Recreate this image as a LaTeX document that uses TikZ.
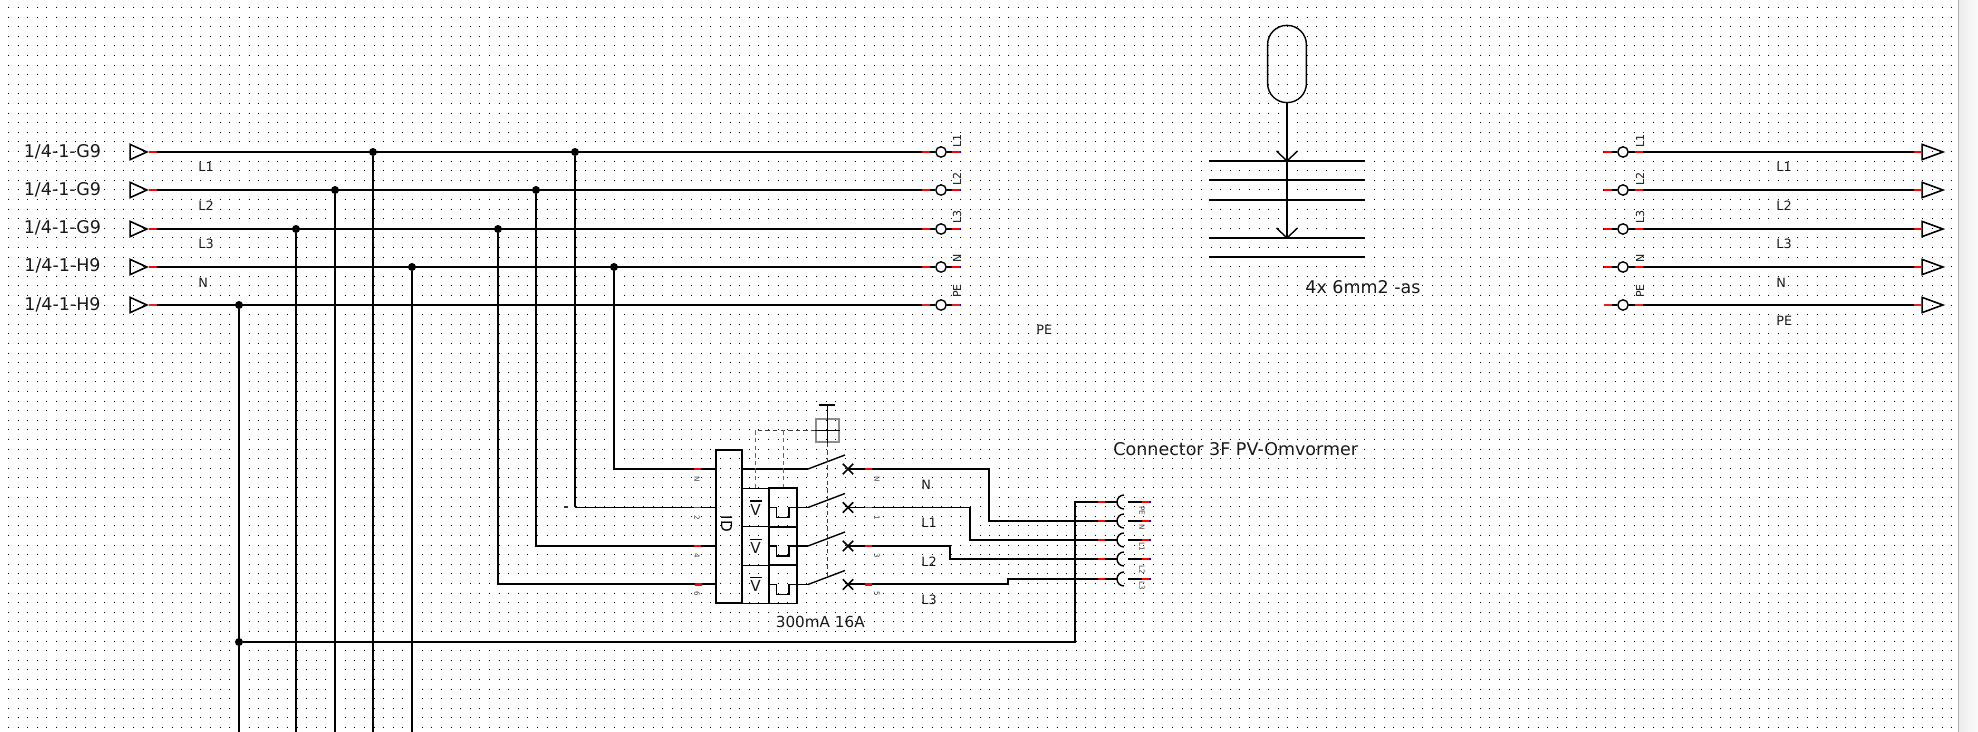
\documentclass[tikz,border=0pt]{standalone}
\usepackage{fontspec}
\setmainfont{DejaVu Sans}
\usetikzlibrary{shapes.geometric}
\usetikzlibrary{shapes.misc}
\tikzset{
    wire/.style = {line width=1pt,black},
    thinwire/.style = {line width=.6pt,black},
    redtip/.style = {line width=1.1pt,red},
    thinredtip/.style = {line width=.7pt,red!70!gray},
    bluetip/.style = {line width=1.1pt,blue},
    junction/.style = {circle,fill=black,inner sep=0pt,minimum size=4pt},
    terminal/.style = {circle,draw,line width=.7pt,fill=white,inner sep=0pt,minimum size=5.2pt},
    feed/.style = {isosceles triangle,isosceles triangle stretches,draw,line width=.8pt,inner sep=0pt,anchor=apex,minimum width=7.6pt,minimum height=8.4pt},
    endfeed/.style = {feed,minimum width=7.6pt,minimum height=10.4pt},
    hugetext/.style = {font=\fontsize{8.75}{10}\selectfont,inner sep=0pt,text=black!90},
    midtext/.style = {font=\fontsize{7.6}{10}\selectfont,inner sep=0pt,text=black!90},
    wirename/.style = {font=\fontsize{6.4}{8}\selectfont,inner sep=0pt,anchor=west,text=black!90},
    pinname/.style = {font=\fontsize{5.5}{7}\selectfont,inner sep=0pt,rotate=90,text=black!90},
    tinypin/.style = {font=\fontsize{3.6}{4}\selectfont,inner sep=0pt,rotate=-90,text=black!75},
    modbox/.style = {rectangle,draw,line width=.8pt,inner sep=0pt},
    contact/.style = {line width=.7pt,black},
    crossmark/.style = {cross out,draw,line width=.8pt,inner sep=0pt,minimum size=4.4pt},
    thindash/.style = {line width=.4pt,black!60,dash pattern=on 2.2pt off 1.6pt}
}
\begin{document}
\begin{tikzpicture}[x=.5pt,y=-.5pt]
    \useasboundingbox (0,0) rectangle (1978,732);
    \shade[left color=black!7,right color=black!2] (1959,0) rectangle (1978,732);
    \draw[black!30,line width=.7pt] (1958.7,0) -- (1958.7,732);
    %dots of the sheet
    \foreach \rowy in {0,...,75} {
        \draw[black,line width=.5pt,dash pattern=on .5pt off 4.31pt] (8,{7.5+9.6*\rowy}) -- (1955,{7.5+9.6*\rowy});
    }

    \path   (149,152) node (inA) [feed] {}
            (149,190) node (inB) [feed] {}
            (149,229) node (inC) [feed] {}
            (149,267) node (inD) [feed] {}
            (149,305) node (inE) [feed] {};
    \path   (941,152) node (outA) [terminal] {}
            (941,190) node (outB) [terminal] {}
            (941,229) node (outC) [terminal] {}
            (941,267) node (outD) [terminal] {}
            (941,305) node (outE) [terminal] {};
    \path   (1623,152) node (backA) [terminal] {}
            (1623,190) node (backB) [terminal] {}
            (1623,229) node (backC) [terminal] {}
            (1623,267) node (backD) [terminal] {}
            (1623,305) node (backE) [terminal] {};
    \path   (1945,152) node (endA) [endfeed] {}
            (1945,190) node (endB) [endfeed] {}
            (1945,229) node (endC) [endfeed] {}
            (1945,267) node (endD) [endfeed] {}
            (1945,305) node (endE) [endfeed] {};

    \path   (373,152) node (jA) [junction] {}
            (575,152) node (kA) [junction] {}
            (335,190) node (jB) [junction] {}
            (536,190) node (kB) [junction] {}
            (296,229) node (jC) [junction] {}
            (498,229) node (kC) [junction] {}
            (412,267) node (jD) [junction] {}
            (614,267) node (kD) [junction] {}
            (239,305) node (jE) [junction] {}
            (239,642) node (kE) [junction] {};
    \coordinate (bottomA) at (373,732);
    \coordinate (bottomB) at (335,732);
    \coordinate (bottomC) at (296,732);
    \coordinate (bottomD) at (412,732);
    \coordinate (bottomE) at (239,732);

    \draw[wire] (inA.apex) -- (outA.west);
    \draw[wire] (inB.apex) -- (outB.west);
    \draw[wire] (inC.apex) -- (outC.west);
    \draw[wire] (inD.apex) -- (outD.west);
    \draw[thinwire] (inE.apex) -- (outE.west);
    \draw[wire] (backA.east) -- (endA.west);
    \draw[wire] (backB.east) -- (endB.west);
    \draw[wire] (backC.east) -- (endC.west);
    \draw[wire] (backD.east) -- (endD.west);
    \draw[thinwire] (backE.east) -- (endE.west);
    \draw[wire] (jA) -- (bottomA);
    \draw[wire] (jB) -- (bottomB);
    \draw[wire] (jC) -- (bottomC);
    \draw[wire] (jD) -- (bottomD);
    \draw[wire] (jE) -- (bottomE);

    \draw[redtip] (inA.apex) -- ++(8,0);
    \draw[redtip] (inB.apex) -- ++(8,0);
    \draw[redtip] (inC.apex) -- ++(8,0);
    \draw[redtip] (inD.apex) -- ++(8,0);
    \draw[thinredtip] (inE.apex) -- ++(8,0);
    \draw[redtip] (outA.west) ++(-13,0) -- ++(8,0);
    \draw[redtip] (outB.west) ++(-13,0) -- ++(8,0);
    \draw[redtip] (outC.west) ++(-13,0) -- ++(8,0);
    \draw[redtip] (outD.west) ++(-13,0) -- ++(8,0);
    \draw[thinredtip] (outE.west) ++(-13,0) -- ++(8,0);
    \draw[thinwire] (outA.east) -- ++(5,0);
    \draw[thinwire] (outB.east) -- ++(5,0);
    \draw[thinwire] (outC.east) -- ++(5,0);
    \draw[thinwire] (outD.east) -- ++(5,0);
    \draw[thinwire] (outE.east) -- ++(5,0);
    \draw[redtip] (outA.east) ++(5,0) -- ++(8,0);
    \draw[redtip] (outB.east) ++(5,0) -- ++(8,0);
    \draw[redtip] (outC.east) ++(5,0) -- ++(8,0);
    \draw[redtip] (outD.east) ++(5,0) -- ++(8,0);
    \draw[thinredtip] (outE.east) ++(5,0) -- ++(8,0);
    \draw[bluetip] (outA.east) ++(13,0) -- ++(1.5,0);
    \draw[bluetip] (outB.east) ++(13,0) -- ++(1.5,0);
    \draw[bluetip] (outC.east) ++(13,0) -- ++(1.5,0);
    \draw[bluetip] (outD.east) ++(13,0) -- ++(1.5,0);
    \draw[bluetip] (outE.east) ++(13,0) -- ++(1.5,0);
    \draw[bluetip] (backA.west) ++(-13,0) -- ++(-1.5,0);
    \draw[bluetip] (backB.west) ++(-13,0) -- ++(-1.5,0);
    \draw[bluetip] (backC.west) ++(-13,0) -- ++(-1.5,0);
    \draw[bluetip] (backD.west) ++(-13,0) -- ++(-1.5,0);
    \draw[thinwire] (backA.west) -- ++(-5,0);
    \draw[thinwire] (backB.west) -- ++(-5,0);
    \draw[thinwire] (backC.west) -- ++(-5,0);
    \draw[thinwire] (backD.west) -- ++(-5,0);
    \draw[thinwire] (backE.west) -- ++(-5,0);
    \draw[redtip] (backA.west) ++(-5,0) -- ++(-8,0);
    \draw[redtip] (backB.west) ++(-5,0) -- ++(-8,0);
    \draw[redtip] (backC.west) ++(-5,0) -- ++(-8,0);
    \draw[redtip] (backD.west) ++(-5,0) -- ++(-8,0);
    \draw[thinredtip] (backE.west) ++(-5,0) -- ++(-8,0);
    \draw[redtip] (backA.east) ++(6,0) -- ++(8,0);
    \draw[redtip] (backB.east) ++(6,0) -- ++(8,0);
    \draw[redtip] (backC.east) ++(6,0) -- ++(8,0);
    \draw[redtip] (backD.east) ++(6,0) -- ++(8,0);
    \draw[thinredtip] (backE.east) ++(6,0) -- ++(8,0);
    \draw[redtip] (endA.west) ++(-7,0) -- ++(7,0);
    \draw[redtip] (endB.west) ++(-7,0) -- ++(7,0);
    \draw[redtip] (endC.west) ++(-7,0) -- ++(7,0);
    \draw[redtip] (endD.west) ++(-7,0) -- ++(7,0);
    \draw[thinredtip] (endE.west) ++(-7,0) -- ++(7,0);

    \path   (62.5,152) node (srcA) [hugetext] {1/4-1-G9}
            (62.5,190) node (srcB) [hugetext] {1/4-1-G9}
            (62.5,228) node (srcC) [hugetext] {1/4-1-G9}
            (62.5,266) node (srcD) [hugetext] {1/4-1-H9}
            (62.5,305) node (srcE) [hugetext] {1/4-1-H9};
    \path   (198,167) node (nameA) [wirename] {L1}
            (198,206) node (nameB) [wirename] {L2}
            (198,244) node (nameC) [wirename] {L3}
            (198,283) node (nameD) [wirename] {N}
            (1036,330) node (nameE) [wirename] {PE}
            (1776,167) node (nameF) [wirename] {L1}
            (1776,206) node (nameG) [wirename] {L2}
            (1776,244) node (nameH) [wirename] {L3}
            (1776,283) node (nameI) [wirename] {N}
            (1776,321) node (nameJ) [wirename] {PE};
    \path   (957,141) node (pinA) [pinname] {L1}
            (957,179) node (pinB) [pinname] {L2}
            (957,217) node (pinC) [pinname] {L3}
            (957,258) node (pinD) [pinname] {N}
            (957,291) node (pinE) [pinname] {PE}
            (1640,141) node (pinF) [pinname] {L1}
            (1640,179) node (pinG) [pinname] {L2}
            (1640,217) node (pinH) [pinname] {L3}
            (1640,258) node (pinI) [pinname] {N}
            (1640,291) node (pinJ) [pinname] {PE};

    %cable
    \path (1287,64) node (pill) [rectangle,rounded corners=9.6pt,draw,line width=.7pt,inner sep=0pt,minimum width=19.4pt,minimum height=38.6pt] {};
    \coordinate (cableA) at (1287,161);
    \coordinate (cableB) at (1287,238);
    \draw[line width=.8pt] (1209,161) -- (1365,161);
    \draw[line width=.7pt] (1209,180) -- (1365,180);
    \draw[line width=.7pt] (1209,200) -- (1365,200);
    \draw[line width=.8pt] (1209,238) -- (1365,238);
    \draw[line width=.7pt] (1209,257) -- (1365,257);
    \draw[wire] (pill.south) -- (cableB);
    \draw[contact] (cableA) -- ++(-10.5,-10) (cableA) -- ++(10.5,-10);
    \draw[contact] (cableB) -- ++(-10.5,-10) (cableB) -- ++(10.5,-10);
    \path (1305,287) node (cabletext) [hugetext,anchor=west] {4x 6mm2 -as};

    %breaker
    \path (729,526.5) node (idbox) [modbox,minimum width=13pt,minimum height=76.5pt] {}
          (726.7,524) node (idtext) [font=\fontsize{7.6}{8}\selectfont,inner sep=0pt,rotate=-90] {ID};
    \path (755.5,507.5) node (vboxA) [modbox,line width=.6pt,minimum width=13.5pt,minimum height=19.2pt] {}
          (755.5,546) node (vboxB) [modbox,line width=.6pt,minimum width=13.5pt,minimum height=19.2pt] {}
          (755.5,584.5) node (vboxC) [modbox,line width=.6pt,minimum width=13.5pt,minimum height=19.2pt] {};
    \path (783,507.5) node (heatA) [modbox,minimum width=13.8pt,minimum height=19.2pt] {}
          (783,546) node (heatB) [modbox,minimum width=13.8pt,minimum height=19.2pt] {}
          (783,584.5) node (heatC) [modbox,minimum width=13.8pt,minimum height=19.2pt] {};
    \path (755.5,509.5) node (voltA) [midtext] {V}
          (755.5,548) node (voltB) [midtext] {V}
          (755.5,586) node (voltC) [midtext] {V};
    \draw[contact] (voltA.north) ++(-6,-2.7) -- ++(12,0);
    \draw[contact] (voltB.north) ++(-6,-2.7) -- ++(12,0);
    \draw[contact] (voltC.north) ++(-6,-2.7) -- ++(12,0);
    \draw[contact] (heatA.west) -- ++(8,0) -- ++(0,10) -- ++(12.5,0) -- ++(0,-10) -- (heatA.east);
    \draw[contact] (heatB.west) -- ++(8,0) -- ++(0,10) -- ++(12.5,0) -- ++(0,-10) -- (heatB.east);
    \draw[contact] (heatC.west) -- ++(8,0) -- ++(0,10) -- ++(12.5,0) -- ++(0,-10) -- (heatC.east);

    \coordinate (hingeN) at (808,469);
    \coordinate (hingeA) at (808,507.5);
    \coordinate (hingeB) at (808,546);
    \coordinate (hingeC) at (808,584.5);
    \path (848,469) node (crossN) [crossmark] {}
          (848,507.5) node (crossA) [crossmark] {}
          (848,546) node (crossB) [crossmark] {}
          (848,584.5) node (crossC) [crossmark] {};
    \draw[wire] (idbox.east |- hingeN) -- (hingeN);
    \draw[contact] (hingeN) -- ++(37,-14);
    \draw[thinwire] (heatA.east) -- (hingeA);
    \draw[contact] (hingeA) -- ++(37,-14);
    \draw[thinwire] (heatB.east) -- (hingeB);
    \draw[contact] (hingeB) -- ++(37,-14);
    \draw[thinwire] (heatC.east) -- (hingeC);
    \draw[contact] (hingeC) -- ++(37,-14);

    \coordinate (foldN) at (614,469);
    \coordinate (foldA) at (575,507.5);
    \coordinate (foldB) at (536,546);
    \coordinate (foldC) at (498,584.5);
    \draw[wire] (kD) -- (foldN) -- (idbox.west |- foldN);
    \draw[wire] (kA) -- (foldA);
    \draw[thinwire] (foldA) -- (idbox.west |- foldA);
    \draw[wire] (kB) -- (foldB) -- (idbox.west |- foldB);
    \draw[wire] (kC) -- (foldC) -- (idbox.west |- foldC);
    \draw[redtip] (idbox.west |- foldN) ++(-21,0) -- ++(7,0);
    \draw[thinredtip] (idbox.west |- foldA) ++(-21,0) -- ++(7,0);
    \draw[redtip] (idbox.west |- foldB) ++(-21,0) -- ++(7,0);
    \draw[redtip] (idbox.west |- foldC) ++(-20,0) -- ++(7,0);
    \path (565.5,507) node (speck) [rectangle,fill=black!80,inner sep=0pt,minimum width=2pt,minimum height=1.4pt] {};
    \path (697,479) node (leftN) [tinypin] {N}
          (697,518) node (leftA) [tinypin] {2}
          (697,556) node (leftB) [tinypin] {4}
          (697,594) node (leftC) [tinypin] {6}
          (877,479) node (rightN) [tinypin] {N}
          (877,518) node (rightA) [tinypin] {1}
          (877,556) node (rightB) [tinypin] {3}
          (877,594) node (rightC) [tinypin] {5};

    %handle
    \path (827.5,430.5) node (handle) [rectangle,draw=black!45,line width=.6pt,inner sep=0pt,minimum size=11.5pt] {};
    \coordinate (capleft) at (819,405);
    \coordinate (capright) at (835,405);
    \draw[thinwire] (capleft) -- (capright);
    \draw[thinwire] (handle.south) -- (handle.south |- capleft);
    \draw[thinwire] (handle.west) -- (handle.east);
    \draw[thindash,black!75] (handle.south) -- (handle.south |- crossC.north);
    \draw[thindash,black!75] (handle.west) -- (vboxA.north |- handle.west);
    \draw[thindash] (vboxA.north |- handle.west) -- (vboxA.north);
    \draw[thindash] (heatA.north |- handle.west) -- (heatA.north);
    \path (775.5,622) node (ratetext) [midtext,anchor=west] {300mA 16A};

    %output cable
    \coordinate (bendN) at (989,469);
    \coordinate (bendA) at (970,507.5);
    \coordinate (bendB) at (950,546);
    \coordinate (bendC) at (1008,584.5);
    \coordinate (bendE) at (1075,642);
    \path (1124,502) coordinate (plugE)
          (1124,521) coordinate (plugN)
          (1124,540) coordinate (plugA)
          (1124,559) coordinate (plugB)
          (1124,579) coordinate (plugC);
    \draw[wire] (crossN.center) -- (bendN) |- (plugN);
    \draw[thinwire] (crossA.center) -- (bendA);
    \draw[wire] (bendA) |- (plugA);
    \draw[wire] (crossB.center) -- (bendB) |- (plugB);
    \draw[wire] (crossC.center) -- (bendC) |- (plugC);
    \draw[wire] (kE) -- (bendE) |- (plugE);
    \draw[redtip] (crossN) ++(17,0) -- ++(7,0);
    \draw[thinredtip] (crossA) ++(17,0) -- ++(7,0);
    \draw[redtip] (crossB) ++(17,0) -- ++(7,0);
    \draw[redtip] (crossC) ++(17,0) -- ++(7,0);
    \draw[redtip] (plugE) ++(-26,0) -- ++(7,0);
    \draw[redtip] (plugN) ++(-26,0) -- ++(7,0);
    \draw[redtip] (plugA) ++(-26,0) -- ++(7,0);
    \draw[redtip] (plugB) ++(-26,0) -- ++(7,0);
    \draw[redtip] (plugC) ++(-26,0) -- ++(7,0);
    \draw[contact,fill=white] (plugE) ++(0,-7) arc[start angle=270,end angle=90,radius=7];
    \draw[contact,fill=white] (plugN) ++(0,-7) arc[start angle=270,end angle=90,radius=7];
    \draw[contact,fill=white] (plugA) ++(0,-7) arc[start angle=270,end angle=90,radius=7];
    \draw[contact,fill=white] (plugB) ++(0,-7) arc[start angle=270,end angle=90,radius=7];
    \draw[contact,fill=white] (plugC) ++(0,-7) arc[start angle=270,end angle=90,radius=7];
    \draw[thinwire] (plugE) ++(4,0) -- ++(15,0);
    \draw[thinwire] (plugN) ++(4,0) -- ++(15,0);
    \draw[thinwire] (plugA) ++(4,0) -- ++(15,0);
    \draw[thinwire] (plugB) ++(4,0) -- ++(15,0);
    \draw[thinwire] (plugC) ++(4,0) -- ++(15,0);
    \draw[redtip] (plugE) ++(18,0) -- ++(7,0);
    \draw[redtip] (plugN) ++(18,0) -- ++(7,0);
    \draw[redtip] (plugA) ++(18,0) -- ++(7,0);
    \draw[redtip] (plugB) ++(18,0) -- ++(7,0);
    \draw[redtip] (plugC) ++(18,0) -- ++(7,0);
    \draw[bluetip] (plugE) ++(25,0) -- ++(1.5,0);
    \draw[bluetip] (plugN) ++(25,0) -- ++(1.5,0);
    \draw[bluetip] (plugA) ++(25,0) -- ++(1.5,0);
    \draw[bluetip] (plugB) ++(25,0) -- ++(1.5,0);
    \draw[bluetip] (plugC) ++(25,0) -- ++(1.5,0);
    \path (1142,511) node (plugnameE) [tinypin] {PE}
          (1142,527) node (plugnameN) [tinypin] {N}
          (1142,547) node (plugnameA) [tinypin] {L1}
          (1142,570) node (plugnameB) [tinypin] {L2}
          (1142,586) node (plugnameC) [tinypin] {L3};
    \path (921,485) node (swnameN) [wirename] {N}
          (921,523) node (swnameA) [wirename] {L1}
          (921,562) node (swnameB) [wirename] {L2}
          (921,600) node (swnameC) [wirename] {L3}
          (1113,449) node (plugtext) [hugetext,anchor=west] {Connector 3F PV-Omvormer};
\end{tikzpicture}
\end{document}
